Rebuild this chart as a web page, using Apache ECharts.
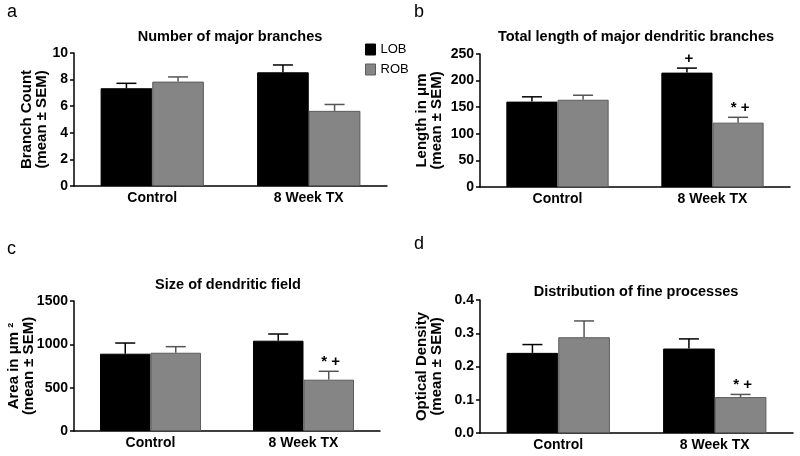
<!DOCTYPE html>
<html>
<head>
<meta charset="utf-8">
<script src="https://cdn.jsdelivr.net/npm/echarts@6/dist/echarts.min.js"></script>
<style>html,body{margin:0;padding:0;background:#fff}#c{width:800px;height:456px}</style>
</head>
<body>
<div id="c"></div>
<script>
const categories = ['Control', '8 Week TX'];
const seriesNames = ['LOB', 'ROB'];

// panel a: Number of major branches
const aLOB = [7.35, 8.55], aLOBsem = [0.37, 0.55];
const aROB = [7.85, 5.65], aROBsem = [0.35, 0.48];
const aLOBnote = ['', ''], aROBnote = ['', ''];
// panel b: Total length of major dendritic branches
const bLOB = [160.5, 215], bLOBsem = [9, 8.5];
const bROB = [164, 121], bROBsem = [8.5, 10];
const bLOBnote = ['', '+'], bROBnote = ['', '* +'];
// panel c: Size of dendritic field
const cLOB = [892, 1042], cLOBsem = [123, 77];
const cROB = [903, 592], cROBsem = [70, 97];
const cLOBnote = ['', ''], cROBnote = ['', '* +'];
// panel d: Distribution of fine processes
const dLOB = [0.241, 0.254], dLOBsem = [0.025, 0.029];
const dROB = [0.288, 0.108], dROBsem = [0.049, 0.008];
const dLOBnote = ['', ''], dROBnote = ['', '* +'];

const yTicks = {
  a: {max: 10, interval: 2, dec: 0},
  b: {max: 250, interval: 50, dec: 0},
  c: {max: 1500, interval: 500, dec: 0},
  d: {max: 0.4, interval: 0.1, dec: 1}
};

const FONT = '"Liberation Sans", Arial, Helvetica, sans-serif';
const GAP = 0.34;
const colors = {LOB: '#000000', ROB: '#858585'};
const borders = {LOB: '#000000', ROB: '#5c5c5c'};
const errColors = {LOB: '#000000', ROB: '#555555'};

const panels = [
  {key:'a', title:'Number of major branches', yname:'Branch Count\n(mean ± SEM)', nameGap:25,
   grid:{left:74, right:413, top:53, bottom:270}, titlePos:{x:230, y:29}, letter:{x:7, y:3},
   L:aLOB, Ls:aLOBsem, R:aROB, Rs:aROBsem, Ln:aLOBnote, Rn:aROBnote},
  {key:'b', title:'Total length of major dendritic branches', yname:'Length in μm\n(mean ± SEM)', nameGap:36,
   grid:{left:480, right:10, top:54, bottom:269}, titlePos:{x:636, y:29}, letter:{x:414, y:3},
   L:bLOB, Ls:bLOBsem, R:bROB, Rs:bROBsem, Ln:bLOBnote, Rn:bROBnote},
  {key:'c', title:'Size of dendritic field', yname:'Area in μm ²\n(mean ± SEM)', nameGap:38,
   grid:{left:74, right:420, top:301, bottom:25}, titlePos:{x:228, y:277}, letter:{x:7, y:240},
   L:cLOB, Ls:cLOBsem, R:cROB, Rs:cROBsem, Ln:cLOBnote, Rn:cROBnote},
  {key:'d', title:'Distribution of fine processes', yname:'Optical Density\n(mean ± SEM)', nameGap:36,
   grid:{left:480, right:7, top:300, bottom:23}, titlePos:{x:636, y:284}, letter:{x:414, y:235},
   L:dLOB, Ls:dLOBsem, R:dROB, Rs:dROBsem, Ln:dLOBnote, Rn:dROBnote}
];

const grids = [], xAxes = [], yAxes = [], series = [], titles = [];

function errSeries(idx, name, means, sems, notes, sign) {
  return {
    type: 'custom', name: name, xAxisIndex: idx, yAxisIndex: idx, z: 5,
    data: means.map((m, i) => [i, m, sems[i]]),
    renderItem: function (params, api) {
      const cat = api.value(0), mean = api.value(1), sem = api.value(2);
      const base = api.coord([cat, mean]);
      const top = api.coord([cat, mean + sem]);
      const band = api.size([1, 0])[0];
      const bw = band * (1 - GAP) / 2;
      const x = base[0] + sign * bw / 2;
      const cap = 20;
      const col = errColors[name];
      const children = [
        {type: 'line', shape: {x1: x, y1: base[1], x2: x, y2: top[1]}, style: {stroke: col, lineWidth: 1.5}},
        {type: 'line', shape: {x1: x - cap / 2, y1: top[1], x2: x + cap / 2, y2: top[1]}, style: {stroke: col, lineWidth: 1.5}}
      ];
      const note = notes[params.dataIndex];
      if (note) {
        children.push({type: 'text', x: x + 2, y: top[1] - 2,
          style: {text: note, fill: '#000', font: 'bold 15px ' + FONT, align: 'center', verticalAlign: 'bottom'}});
      }
      return {type: 'group', children: children};
    }
  };
}

panels.forEach((p, idx) => {
  const t = yTicks[p.key];
  grids.push(Object.assign({containLabel: false}, p.grid));
  xAxes.push({
    type: 'category', gridIndex: idx, data: categories,
    axisLine: {lineStyle: {color: '#000', width: 1.5}},
    axisTick: {show: false},
    axisLabel: {color: '#000', fontFamily: FONT, fontWeight: 'bold', fontSize: 14, margin: 5}
  });
  yAxes.push({
    type: 'value', gridIndex: idx, min: 0, max: t.max, interval: t.interval,
    name: p.yname, nameLocation: 'middle', nameGap: p.nameGap, nameRotate: 90, nameMoveOverlap: false,
    nameTextStyle: {color: '#000', fontFamily: FONT, fontWeight: 'bold', fontSize: 15, lineHeight: 15, align: 'center'},
    axisLine: {show: true, lineStyle: {color: '#000', width: 1.5}},
    axisTick: {show: true, inside: false, length: 4, lineStyle: {color: '#000', width: 1.5}},
    splitLine: {show: false},
    axisLabel: {color: '#000', fontFamily: FONT, fontWeight: 'bold', fontSize: 14, margin: 6,
      formatter: v => v.toFixed(t.dec)}
  });
  series.push({
    type: 'bar', name: 'LOB', xAxisIndex: idx, yAxisIndex: idx, data: p.L,
    barGap: '0%', barCategoryGap: (GAP * 100) + '%',
    itemStyle: {color: colors.LOB, borderColor: borders.LOB, borderWidth: 1}
  });
  series.push({
    type: 'bar', name: 'ROB', xAxisIndex: idx, yAxisIndex: idx, data: p.R,
    barGap: '0%', barCategoryGap: (GAP * 100) + '%',
    itemStyle: {color: colors.ROB, borderColor: borders.ROB, borderWidth: 1}
  });
  series.push(errSeries(idx, 'LOB', p.L, p.Ls, p.Ln, -1));
  series.push(errSeries(idx, 'ROB', p.R, p.Rs, p.Rn, 1));
  titles.push({text: p.title, left: p.titlePos.x, top: p.titlePos.y, textAlign: 'center', padding: 0,
    textStyle: {color: '#000', fontFamily: FONT, fontWeight: 'bold', fontSize: 14.5}});
  titles.push({text: p.key, left: p.letter.x, top: p.letter.y, padding: 0,
    textStyle: {color: '#000', fontFamily: FONT, fontWeight: 'normal', fontSize: 18}});
});

const chart = echarts.init(document.getElementById('c'), null, {renderer: 'canvas'});
chart.setOption({
  animation: false,
  backgroundColor: '#fff',
  title: titles,
  legend: {
    data: [
      {name: 'LOB', itemStyle: {color: colors.LOB, borderColor: '#000', borderWidth: 1}},
      {name: 'ROB', itemStyle: {color: colors.ROB, borderColor: borders.ROB, borderWidth: 1}}
    ],
    orient: 'vertical', left: 365, top: 43, padding: 0, icon: 'rect', itemWidth: 10, itemHeight: 11, itemGap: 7,
    textStyle: {color: '#000', fontFamily: FONT, fontSize: 13}, selectedMode: false
  },
  grid: grids, xAxis: xAxes, yAxis: yAxes, series: series
});
</script>
</body>
</html>
